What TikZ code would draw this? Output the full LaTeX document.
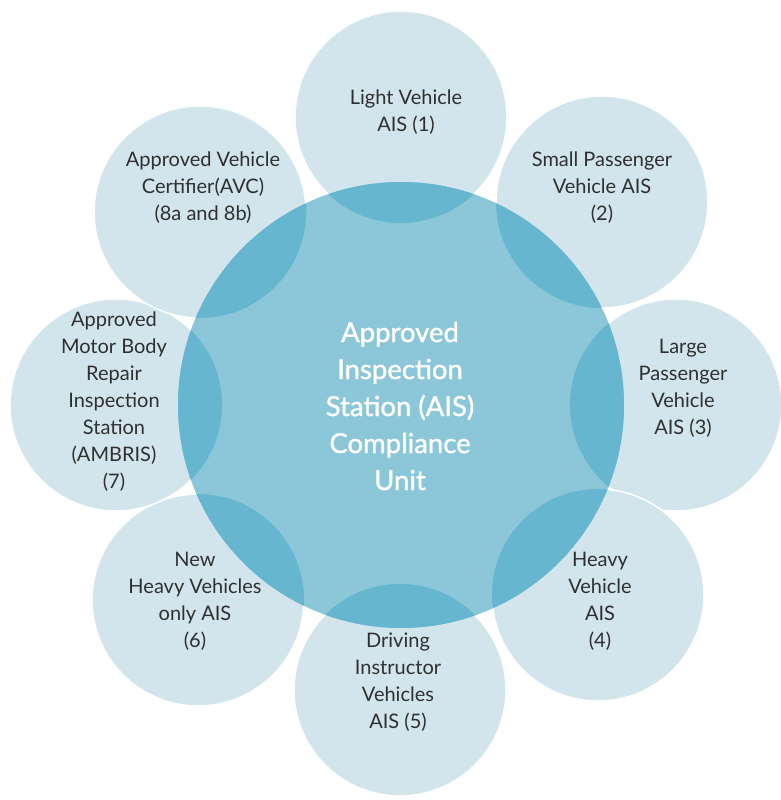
\documentclass[tikz,border=0pt]{standalone}
\usepackage{fontspec}
\setmainfont{Lato}
\definecolor{smallc}{HTML}{D2E5EC}
\definecolor{bigc}{HTML}{8CC6D9}
\definecolor{lensc}{HTML}{66B6CF}
\definecolor{txtc}{HTML}{303030}
\begin{document}
\begin{tikzpicture}[x=1pt,y=-1pt,
  satc/.style={circle,minimum size=212pt,inner sep=0pt,fill=smallc,draw=white,line width=1.5pt},
  hubc/.style={circle,minimum size=446pt,inner sep=0pt,fill=bigc},
  sattext/.style={align=center,text=txtc,font=\fontsize{20}{27}\selectfont,inner sep=0pt},
  hubtext/.style={align=center,text=white,font=\fontsize{27.5}{37}\selectfont\addfontfeature{FakeBold=1.2},inner sep=0pt}]
\useasboundingbox[fill=white] (0,0) rectangle (781,800);
% satellite circles
\node[satc] (s1) at (401,117) {};
\node[satc] (s2) at (602,202) {};
\node[satc] (s3) at (676,405) {};
\node[satc] (s4) at (598,595) {};
\node[satc] (s5) at (400,690) {};
\node[satc] (s6) at (198,600) {};
\node[satc] (s7) at (116,405) {};
\node[satc] (s8) at (200,212) {};
% hub
\node[hubc] (hub) at (401,405) {};
% overlap lenses
\begin{scope}
  \clip (hub.center) circle (223);
  \foreach \s in {s1,s2,s3,s4,s5,s6,s7,s8}{
    \fill[lensc] (\s.center) circle (106);
  }
\end{scope}
% texts
\node[hubtext] (thub) at (400,406) {Approved\\Inspection\\Station (AIS)\\Compliance\\Unit};
\node[sattext] (t1) at (406,112) {Light Vehicle\\AIS (1)};
\node[sattext] (t2) at (602,188) {Small Passenger\\Vehicle AIS\\(2)};
\node[sattext] (t3) at (683,388) {Large\\Passenger\\Vehicle\\AIS (3)};
\node[sattext] (t4) at (600,601) {Heavy\\Vehicle\\AIS\\(4)};
\node[sattext] (t5) at (398,682) {Driving\\Instructor\\Vehicles\\AIS (5)};
\node[sattext] (t6) at (195,601) {New\\Heavy Vehicles\\only AIS\\(6)};
\node[sattext] (t7) at (114,402) {Approved\\Motor Body\\Repair\\Inspection\\Station\\(AMBRIS)\\(7)};
\node[sattext] (t8) at (203,188) {Approved Vehicle\\Certifier(AVC)\\(8a and 8b)};
\end{tikzpicture}
\end{document}
